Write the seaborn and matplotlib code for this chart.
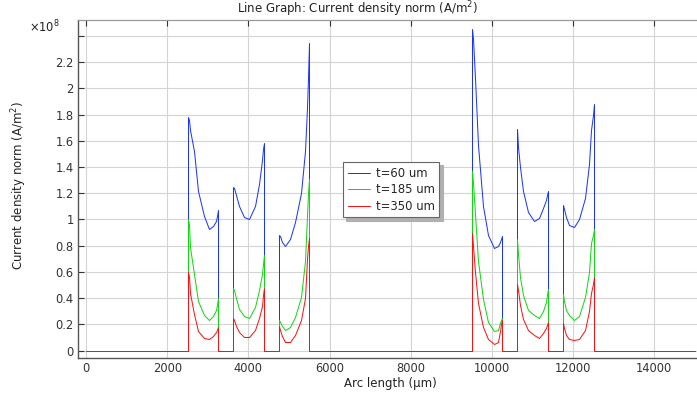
import numpy as np
import pandas as pd
import matplotlib
matplotlib.use("Agg")
import matplotlib.pyplot as plt
import seaborn as sns

# Electrode segments along the arc (start positions, um); each segment is 750 um long
seg_starts = [2500, 3625, 4750, 9500, 10625, 11750]
seg_length = 750
# Sample positions inside every segment (um from the segment start)
seg_offsets = [0, 25, 70, 150, 270, 400, 540, 640, 700, 730, 750]
arc_end = 15000

# Current density norm, in units of 1e8 A/m^2, per segment
j_t60 = [
    [1.78, 1.76, 1.68, 1.52, 1.22, 1.03, 0.93, 0.95, 0.99, 1.03, 1.07],
    [1.25, 1.24, 1.19, 1.10, 1.02, 1.00, 1.10, 1.27, 1.45, 1.54, 1.58],
    [0.88, 0.87, 0.83, 0.80, 0.85, 0.98, 1.20, 1.52, 1.85, 2.08, 2.35],
    [2.45, 2.38, 2.08, 1.57, 1.10, 0.88, 0.78, 0.80, 0.83, 0.85, 0.87],
    [1.69, 1.55, 1.40, 1.22, 1.06, 0.99, 1.01, 1.09, 1.15, 1.19, 1.22],
    [1.11, 1.08, 1.02, 0.96, 0.94, 1.00, 1.16, 1.42, 1.68, 1.80, 1.88],
]
j_t185 = [
    [1.00, 0.96, 0.79, 0.58, 0.38, 0.27, 0.233, 0.26, 0.31, 0.35, 0.40],
    [0.48, 0.46, 0.40, 0.32, 0.26, 0.25, 0.33, 0.46, 0.58, 0.66, 0.73],
    [0.23, 0.22, 0.19, 0.16, 0.18, 0.255, 0.41, 0.68, 1.03, 1.20, 1.31],
    [1.37, 1.28, 1.04, 0.68, 0.39, 0.22, 0.145, 0.155, 0.21, 0.235, 0.25],
    [0.85, 0.74, 0.56, 0.42, 0.31, 0.27, 0.25, 0.30, 0.37, 0.42, 0.47],
    [0.43, 0.38, 0.31, 0.27, 0.236, 0.26, 0.41, 0.60, 0.82, 0.88, 0.93],
]
j_t350 = [
    [0.60, 0.56, 0.44, 0.28, 0.15, 0.097, 0.09, 0.11, 0.14, 0.16, 0.18],
    [0.25, 0.23, 0.19, 0.14, 0.105, 0.10, 0.16, 0.25, 0.34, 0.42, 0.48],
    [0.19, 0.16, 0.11, 0.065, 0.065, 0.115, 0.23, 0.40, 0.70, 0.80, 0.86],
    [0.90, 0.80, 0.60, 0.36, 0.18, 0.09, 0.05, 0.065, 0.15, 0.20, 0.23],
    [0.51, 0.46, 0.35, 0.24, 0.16, 0.115, 0.095, 0.13, 0.17, 0.195, 0.215],
    [0.21, 0.17, 0.12, 0.09, 0.08, 0.09, 0.16, 0.30, 0.44, 0.51, 0.56],
]
series_labels = ["t=60 um", "t=185 um", "t=350 um"]
series_colors = ["#1a33ff", "#10d810", "#ff1010"]

y_ticks = [0, 0.2, 0.4, 0.6, 0.8, 1, 1.2, 1.4, 1.6, 1.8, 2, 2.2, 2.4]
x_ticks = [0, 2000, 4000, 6000, 8000, 10000, 12000, 14000]


def build_profile(values):
    """Arc-length profile: zero between electrodes, sampled values on them."""
    xs, ys = [0.0], [0.0]
    for start, seg in zip(seg_starts, values):
        xs.append(start)
        ys.append(0.0)
        for off, v in zip(seg_offsets, seg):
            xs.append(start + off)
            ys.append(v)
        xs.append(start + seg_length)
        ys.append(0.0)
    xs.append(arc_end)
    ys.append(0.0)
    return xs, ys


frames = []
for label, vals in zip(series_labels, [j_t60, j_t185, j_t350]):
    xs, ys = build_profile(vals)
    frames.append(pd.DataFrame({"arc": xs, "J": ys, "series": label}))
df = pd.concat(frames, ignore_index=True)

sns.set_style("white")
plt.rcParams["font.family"] = ["DejaVu Sans"]

W, H = 697, 399
fig = plt.figure(figsize=(W / 100, H / 100), dpi=100)
ax = fig.add_axes([78 / W, (H - 358) / H, (704 - 78) / W, (358 - 20) / H])

sns.lineplot(data=df, x="arc", y="J", hue="series", hue_order=series_labels,
             palette=series_colors, estimator=None, sort=False, units="series",
             linewidth=0.72, legend=False, ax=ax)
# Snap the profile vertices to pixel centres so vertical jumps stay crisp
for line in ax.get_lines():
    line.set_snap(True)

# Axes ranges (zero level sits on a pixel-row centre so the baseline stays crisp)
px_per_um = 0.0406
px_per_unit = 131.06
ax.set_xlim((78 - 86) / px_per_um, (704 - 86) / px_per_um)
ax.set_ylim((350.5 - 358) / px_per_unit, (350.5 - 20) / px_per_unit)

ax.set_xticks(x_ticks)
ax.set_xticklabels([f"{v:d}" for v in x_ticks])
ax.set_yticks(y_ticks)
ax.set_yticklabels([f"{v:g}" if v < 2.3 else "" for v in y_ticks])
ax.set_xlabel("")
ax.set_ylabel("")

ax.grid(True, color="#d4d4d4", linewidth=0.8)
ax.set_axisbelow(True)
ax.tick_params(axis="both", direction="in", length=4, width=0.8,
               labelsize=8.3, colors="#333333", pad=3)
ax.tick_params(axis="x", top=True)
ax.tick_params(axis="y", left=True)

for side in ["left", "bottom"]:
    ax.spines[side].set_color("#555555")
    ax.spines[side].set_linewidth(1.0)
ax.spines["top"].set_color("#9a9a9a")
ax.spines["top"].set_linewidth(0.9)
ax.spines["right"].set_visible(False)

# Legend with drop shadow
handles = ax.get_lines()[:3]
leg = ax.legend(handles, series_labels, loc="upper left",
                bbox_to_anchor=(343 / W, 1 - 162 / H), bbox_transform=fig.transFigure,
                borderaxespad=0, fontsize=8.4, frameon=True, fancybox=False,
                shadow={"color": "#b0b0b0", "alpha": 1.0, "ox": 2.5, "oy": -2.5},
                handlelength=1.9, handletextpad=0.5,
                labelspacing=0.3, borderpad=0.4)
leg.get_frame().set_edgecolor("#666666")
leg.get_frame().set_linewidth(0.8)
leg.get_frame().set_alpha(1)

# Texts
fig.text(358 / W, 1 - 9 / H, "Line Graph: Current density norm (A/m$^2$)",
         ha="center", va="center", fontsize=8.5, color="#222222")
fig.text(19 / W, 1 - 185 / H, "Current density norm (A/m$^2$)",
         ha="center", va="center", rotation=90, fontsize=8.5, color="#222222")
fig.text(390 / W, 1 - 383 / H, "Arc length (µm)",
         ha="center", va="center", fontsize=8.5, color="#222222")
fig.text(44 / W, 1 - 27 / H, r"$\times$10$^8$",
         ha="center", va="center", fontsize=8.3, color="#222222")

fig.savefig("out.png", dpi=100)
